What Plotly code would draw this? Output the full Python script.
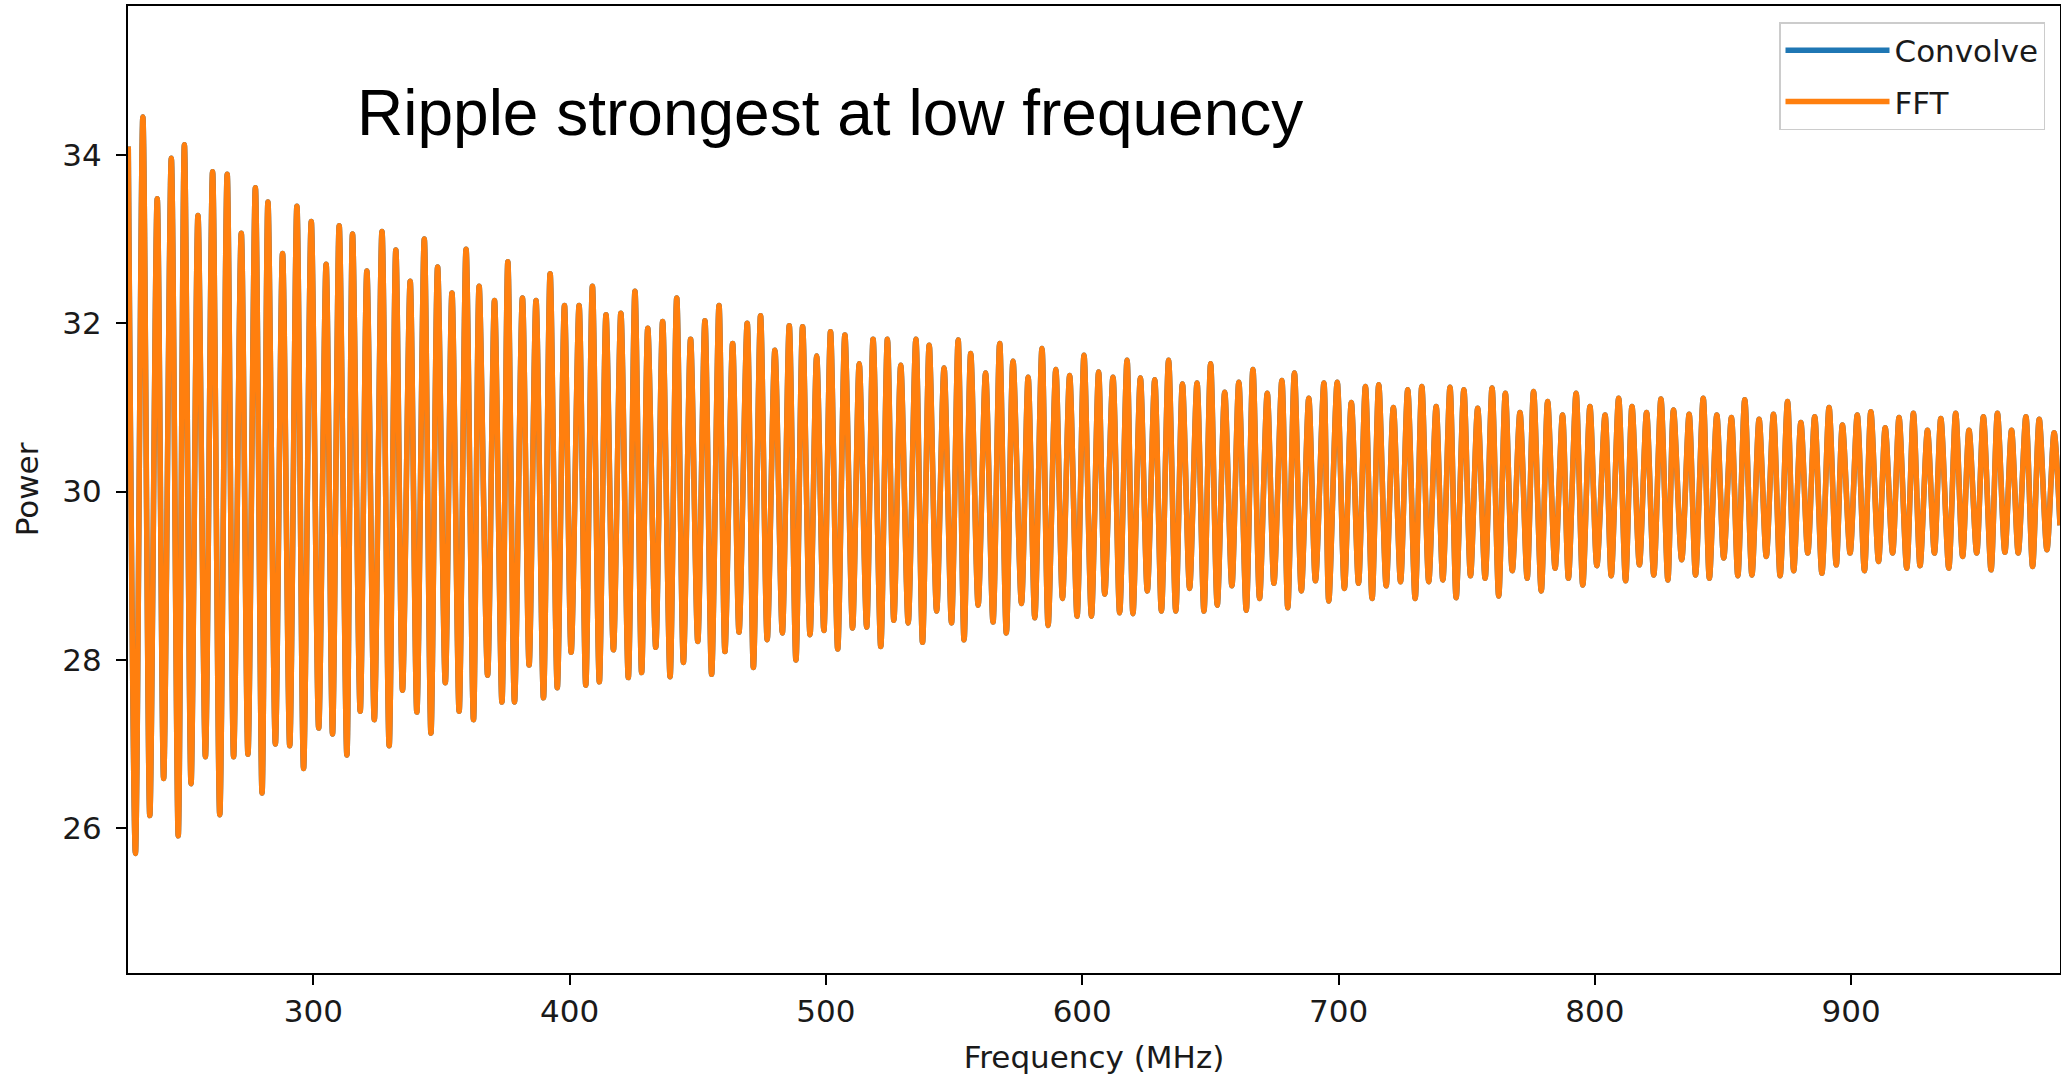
import plotly.graph_objects as go

# Extrema of the ripple (frequency in MHz, power)
freq_mhz = [
    227.8, 230.6, 233.5, 236.2, 239.1, 241.6, 244.6, 247.3, 249.7, 252.3, 255.0, 257.9, 260.7, 263.5, 266.4,
    268.9, 271.9, 274.5, 277.4, 280.0, 282.3, 285.2, 288.0, 290.8, 293.6, 296.2, 299.2, 302.1, 305.0, 307.5,
    310.1, 313.1, 315.3, 318.3, 320.9, 323.8, 326.8, 329.6, 332.2, 334.8, 337.8, 340.4, 343.3, 345.9, 348.5,
    351.5, 354.1, 356.9, 359.6, 362.5, 364.7, 368.0, 370.7, 373.6, 375.9, 378.5, 381.6, 384.2, 386.9, 389.8,
    392.4, 395.2, 398.0, 400.6, 403.7, 406.3, 408.9, 411.6, 414.2, 417.1, 420.0, 422.9, 425.5, 428.1, 430.5,
    433.6, 436.3, 439.2, 441.8, 444.4, 447.2, 450.0, 452.8, 455.4, 458.3, 460.6, 463.6, 466.1, 469.3, 471.7,
    474.5, 477.1, 480.1, 483.0, 485.7, 488.3, 490.9, 493.8, 496.4, 499.2, 501.8, 504.6, 507.4, 510.4, 513.0,
    515.9, 518.4, 521.4, 524.0, 526.5, 529.2, 532.1, 535.1, 537.7, 540.3, 543.2, 546.1, 549.0, 551.6, 553.9,
    556.5, 559.4, 562.3, 565.2, 567.8, 570.4, 573.0, 576.3, 578.9, 581.5, 584.3, 586.7, 589.7, 592.3, 595.1,
    598.0, 600.7, 603.6, 606.4, 608.8, 612.0, 614.6, 617.5, 619.8, 622.7, 625.4, 628.3, 630.9, 633.7, 636.5,
    639.1, 641.9, 644.8, 647.5, 650.1, 652.7, 655.6, 658.4, 661.1, 664.0, 666.6, 669.2, 672.2, 674.8, 677.9,
    680.2, 682.8, 685.5, 688.4, 691.0, 694.3, 696.2, 699.5, 702.3, 705.0, 707.8, 710.5, 713.1, 715.7, 718.6,
    721.4, 724.2, 727.0, 729.9, 732.5, 735.2, 738.1, 740.7, 743.5, 745.9, 748.9, 751.5, 754.3, 757.2, 759.9,
    762.5, 765.1, 767.8, 770.8, 773.6, 776.1, 779.1, 781.6, 784.5, 787.4, 789.7, 792.7, 795.3, 798.1, 800.8,
    804.0, 806.4, 809.3, 812.0, 814.5, 817.4, 820.2, 823.0, 825.8, 828.5, 830.7, 833.9, 836.8, 839.3, 842.3,
    844.7, 847.6, 850.3, 853.3, 855.8, 858.5, 861.3, 864.1, 866.9, 869.7, 872.3, 875.2, 877.6, 880.4, 883.1,
    885.8, 888.6, 891.4, 894.2, 896.6, 899.6, 902.4, 905.2, 907.7, 910.7, 913.3, 916.2, 918.7, 921.7, 924.3,
    926.9, 929.8, 932.5, 935.0, 938.1, 940.8, 943.5, 946.0, 949.0, 951.6, 954.6, 957.1, 960.0, 962.6, 965.2,
    968.2, 970.8, 973.4, 976.4, 979.2, 981.5,
]

power_convolve = [
    34.10, 25.70, 34.45, 26.15, 33.48, 26.59, 33.96, 25.91, 34.12, 26.53, 33.28, 26.85, 33.80, 26.16, 33.77,
    26.85, 33.07, 26.88, 33.61, 26.42, 33.44, 27.00, 32.83, 26.98, 33.39, 26.71, 33.21, 27.19, 32.70, 27.12,
    33.16, 26.87, 33.06, 27.39, 32.62, 27.29, 33.09, 26.98, 32.87, 27.64, 32.50, 27.38, 33.00, 27.13, 32.67,
    27.73, 32.36, 27.39, 32.88, 27.29, 32.44, 27.82, 32.27, 27.50, 32.73, 27.50, 32.30, 27.94, 32.27, 27.55,
    32.59, 27.67, 32.21, 28.09, 32.21, 27.70, 32.44, 27.74, 32.10, 28.12, 32.12, 27.79, 32.38, 27.85, 31.94,
    28.15, 32.02, 27.80, 32.30, 27.97, 31.81, 28.22, 32.03, 27.83, 32.21, 28.10, 31.76, 28.33, 32.00, 27.91,
    32.09, 28.24, 31.68, 28.32, 31.97, 28.00, 31.96, 28.30, 31.61, 28.35, 31.90, 28.13, 31.86, 28.38, 31.52,
    28.39, 31.81, 28.16, 31.81, 28.47, 31.50, 28.44, 31.81, 28.21, 31.74, 28.58, 31.47, 28.44, 31.80, 28.24,
    31.64, 28.65, 31.41, 28.45, 31.76, 28.32, 31.55, 28.67, 31.36, 28.50, 31.70, 28.41, 31.45, 28.73, 31.38,
    28.52, 31.62, 28.52, 31.42, 28.78, 31.36, 28.56, 31.56, 28.55, 31.35, 28.82, 31.33, 28.58, 31.56, 28.58,
    31.28, 28.85, 31.29, 28.58, 31.52, 28.65, 31.18, 28.88, 31.30, 28.59, 31.45, 28.73, 31.17, 28.91, 31.32,
    28.62, 31.41, 28.82, 31.11, 28.94, 31.29, 28.70, 31.30, 28.85, 31.06, 28.91, 31.25, 28.73, 31.27, 28.88,
    31.00, 28.93, 31.21, 28.73, 31.25, 28.93, 31.01, 28.95, 31.24, 28.74, 31.21, 29.00, 30.99, 28.97, 31.23,
    28.76, 31.17, 29.06, 30.94, 28.97, 31.19, 28.82, 31.07, 29.09, 30.91, 28.97, 31.17, 28.89, 31.01, 29.12,
    30.91, 29.00, 31.11, 28.94, 31.01, 29.13, 30.94, 29.01, 31.10, 28.95, 30.97, 29.19, 30.92, 29.01, 31.11,
    28.97, 30.91, 29.21, 30.88, 29.00, 31.09, 29.01, 30.86, 29.23, 30.92, 29.00, 31.07, 29.06, 30.82, 29.27,
    30.89, 29.03, 31.00, 29.13, 30.79, 29.27, 30.91, 29.06, 30.95, 29.17, 30.76, 29.27, 30.88, 29.09, 30.93,
    29.12, 30.73, 29.27, 30.87, 29.09, 30.93, 29.23, 30.73, 29.27, 30.89, 29.07, 30.93, 29.28, 30.73, 29.27,
    30.89, 29.11, 30.86, 29.31, 30.70, 29.60,
]

# FFT result coincides with the convolution result
power_fft = list(power_convolve)

x_ticks = [300, 400, 500, 600, 700, 800, 900]
y_ticks = [26, 28, 30, 32, 34]
x_range = [227.7, 981.5]
y_range = [24.28, 35.77]

W, H = 2061, 1079
ML, MR, MT, MB = 128, 1, 6, 106
PW, PH = W - ML - MR, H - MT - MB

tick_font = dict(family="DejaVu Sans", size=31, color="#1a1a1a")

fig = go.Figure()
fig.add_trace(go.Scatter(
    x=freq_mhz, y=power_convolve, mode="lines", name="Convolve",
    line=dict(color="#1f77b4", width=5.5, shape="spline", smoothing=0.8), legendgroup="a",
))
fig.add_trace(go.Scatter(
    x=freq_mhz, y=power_fft, mode="lines", name="FFT",
    line=dict(color="#ff7f0e", width=5.5, shape="spline", smoothing=0.8), legendgroup="b",
))

fig.update_layout(
    width=W, height=H,
    margin=dict(l=ML, r=MR, t=MT, b=MB, pad=0, autoexpand=False),
    paper_bgcolor="white", plot_bgcolor="white",
    font=tick_font,
    showlegend=True,
    legend=dict(
        x=(2045 - ML) / PW, y=1 - (22 - MT) / PH, xanchor="right", yanchor="top",
        bgcolor="rgba(255,255,255,0.85)", bordercolor="#cccccc", borderwidth=1.5,
        font=dict(family="DejaVu Sans", size=31, color="#1a1a1a"),
        tracegroupgap=8, itemwidth=104,
    ),
    xaxis=dict(
        range=x_range, tickvals=x_ticks, ticktext=[str(v) for v in x_ticks],
        showgrid=False, zeroline=False, automargin=False,
        showline=True, mirror=True, linecolor="black", linewidth=2,
        ticks="outside", ticklen=10, tickwidth=2, tickcolor="black",
        tickfont=tick_font, ticklabelstandoff=0,
        title=dict(text="Frequency (MHz)", font=tick_font, standoff=18),
    ),
    yaxis=dict(
        range=y_range, tickvals=y_ticks, ticktext=[str(v) for v in y_ticks],
        showgrid=False, zeroline=False, automargin=False,
        showline=True, mirror=True, linecolor="black", linewidth=2,
        ticks="outside", ticklen=10, tickwidth=2, tickcolor="black",
        tickfont=tick_font, ticklabelstandoff=8,
        title=dict(text="Power", font=tick_font, standoff=14),
    ),
    annotations=[dict(
        text="Ripple strongest at low frequency",
        xref="paper", yref="paper",
        x=(355 - ML) / PW, y=1 - (113 - MT) / PH,
        xanchor="left", yanchor="middle", showarrow=False,
        font=dict(family="Liberation Sans, Arial, Helvetica", size=64, color="black"),
    )],
)

fig.write_html(
    "out.html",
    config={"displayModeBar": False},
    post_script="document.body.style.margin='0px';document.body.style.padding='0px';"
                "document.body.style.overflow='hidden';",
)
